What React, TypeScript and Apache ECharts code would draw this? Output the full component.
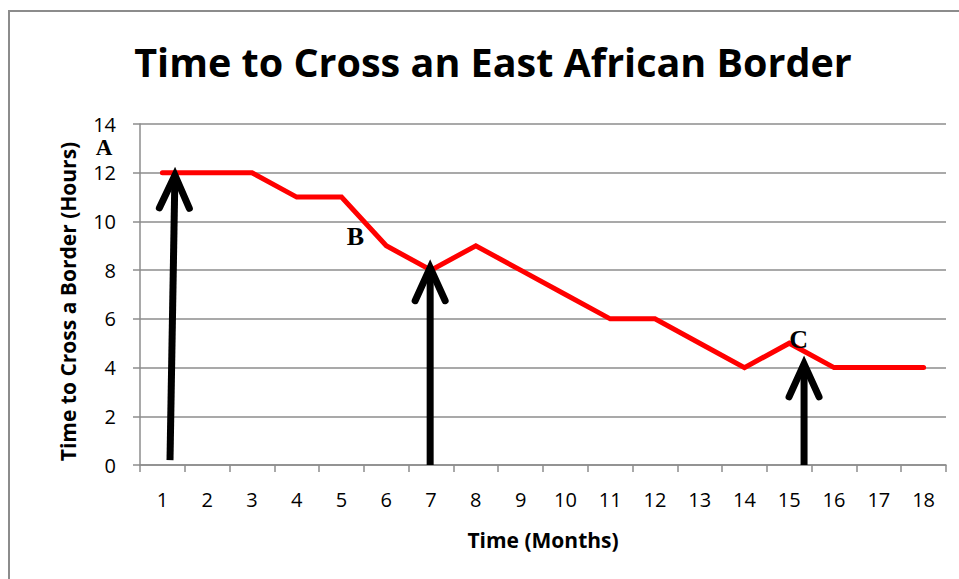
import React, { useEffect, useRef } from "react";
import * as echarts from "echarts";

const months = ["1", "2", "3", "4", "5", "6", "7", "8", "9", "10", "11", "12", "13", "14", "15", "16", "17", "18"];
const hours = [12, 12, 12, 11, 11, 9, 8, 9, 8, 7, 6, 6, 5, 4, 5, 4, 4, 4];
// arrows: [xStart, yStart, xEnd, yEnd] in month / hour units
const arrows = [
  [1.17, 0.2, 1.28, 11.9],
  [6.98, 0, 6.98, 8.1],
  [15.33, 0, 15.33, 4.15],
];
const markLetters = ["A", "B", "C"];
const markPositions = [
  [-0.3, 13.02],
  [5.31, 9.4],
  [15.21, 5.17],
];
const markSizes = [23, 26, 26];

const gray = "#8c8c8c";
const sans = "'Open Sans', 'Noto Sans', sans-serif";

export default function App() {
  const ref = useRef<HTMLDivElement>(null);
  useEffect(() => {
    const chart = echarts.init(ref.current!, null, { renderer: "svg" });
    chart.setOption({
      animation: false,
      backgroundColor: "#ffffff",
      title: {
        text: "Time to Cross an East African Border",
        left: 488,
        top: 37,
        textAlign: "center",
        textStyle: { fontFamily: sans, fontWeight: "bold", fontSize: 39.5, color: "#000" },
      },
      graphic: [
        {
          type: "rect",
          shape: { x: 9, y: 11, width: 1200, height: 1000 },
          style: { fill: "none", stroke: gray, lineWidth: 2 },
          silent: true,
        },
      ],
      grid: { left: 140, right: 13, top: 124, bottom: 114 },
      xAxis: [
        {
          type: "category",
          data: months,
          boundaryGap: true,
          name: "Time (Months)",
          nameLocation: "middle",
          nameGap: 64,
          nameTextStyle: { fontFamily: sans, fontWeight: "bold", fontSize: 21, color: "#000" },
          axisLine: { lineStyle: { color: gray, width: 1.5 } },
          axisTick: { show: true, length: 7, lineStyle: { color: gray, width: 1.5 } },
          axisLabel: { margin: 24, fontFamily: sans, fontSize: 20, color: "#000" },
          splitLine: { show: false },
        },
        {
          type: "value",
          min: 0.5,
          max: 18.5,
          show: false,
          splitLine: { show: false },
        },
      ],
      yAxis: {
        type: "value",
        min: 0,
        max: 14,
        interval: 2,
        name: "Time to Cross a Border (Hours)",
        nameLocation: "middle",
        nameGap: 62,
        nameTextStyle: { fontFamily: sans, fontWeight: "bold", fontSize: 21, color: "#000", padding: [0, 14, 0, 0] },
        axisLine: { show: true, lineStyle: { color: gray, width: 1.5 } },
        axisTick: { show: true, length: 7, lineStyle: { color: gray, width: 1.5 } },
        axisLabel: { margin: 24, fontFamily: sans, fontSize: 20, color: "#000" },
        splitLine: { show: true, lineStyle: { color: gray, width: 1.5 } },
      },
      series: [
        {
          type: "line",
          data: hours,
          xAxisIndex: 0,
          symbol: "none",
          lineStyle: { color: "#ff0000", width: 5, cap: "round", join: "miter" },
          z: 3,
        },
        {
          type: "custom",
          xAxisIndex: 1,
          clip: false,
          z: 4,
          data: arrows,
          encode: { x: [0, 2], y: [1, 3] },
          renderItem: (params: any, api: any) => {
            const p0 = api.coord([api.value(0), api.value(1)]);
            const p1 = api.coord([api.value(2), api.value(3)]);
            const dx = p1[0] - p0[0];
            const dy = p1[1] - p0[1];
            const len = Math.sqrt(dx * dx + dy * dy);
            const ux = dx / len;
            const uy = dy / len;
            const px = -uy;
            const py = ux;
            const back = 33;
            const half = 15;
            const w1 = [p1[0] - ux * back + px * half, p1[1] - uy * back + py * half];
            const w2 = [p1[0] - ux * back - px * half, p1[1] - uy * back - py * half];
            return {
              type: "group",
              children: [
                {
                  type: "line",
                  shape: { x1: p0[0], y1: p0[1], x2: p1[0] - ux * 4, y2: p1[1] - uy * 4 },
                  style: { stroke: "#000", lineWidth: 7, lineCap: "butt" },
                },
                {
                  type: "polyline",
                  shape: { points: [w1, [p1[0], p1[1]], w2] },
                  style: { stroke: "#000", lineWidth: 7, fill: "none", lineCap: "round", lineJoin: "miter" },
                },
              ],
            };
          },
        },
        {
          type: "custom",
          xAxisIndex: 1,
          clip: false,
          z: 5,
          data: markPositions.map((p, i) => ({ value: p, name: markLetters[i] })),
          renderItem: (params: any, api: any) => {
            const p = api.coord([api.value(0), api.value(1)]);
            return {
              type: "text",
              x: p[0],
              y: p[1],
              style: {
                text: markLetters[params.dataIndex],
                fontFamily: "'Liberation Serif', 'DejaVu Serif', serif",
                fontWeight: "bold",
                fontSize: markSizes[params.dataIndex],
                fill: "#000",
                align: "center",
                verticalAlign: "middle",
              },
            };
          },
        },
      ],
    });
    return () => chart.dispose();
  }, []);
  return (
    <div
      ref={ref}
      style={{ position: "fixed", left: 0, top: 0, width: 959, height: 579 }}
    />
  );
}
